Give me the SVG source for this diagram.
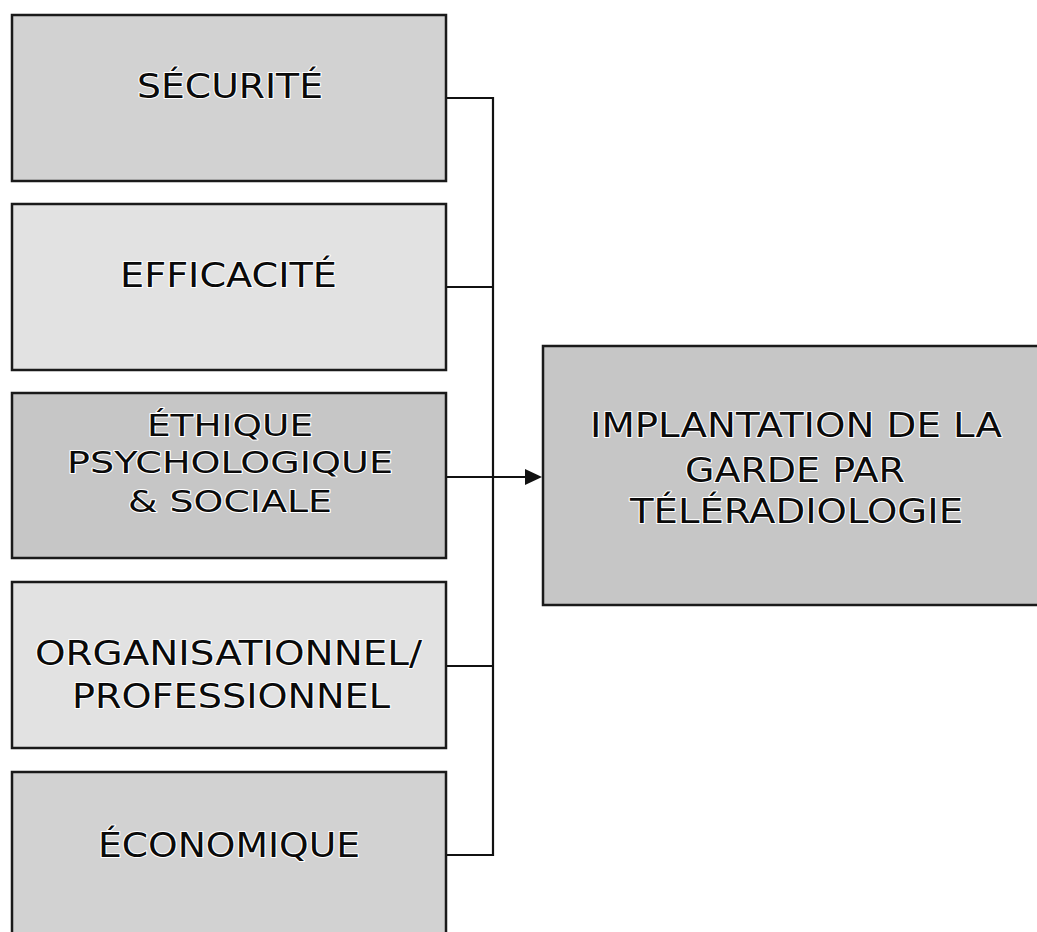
<svg xmlns="http://www.w3.org/2000/svg" width="1037" height="932" viewBox="0 0 1037 932">
<style>
.box{stroke:#1a1a1a;stroke-width:2.5}
.g1{fill:#d2d2d2}
.g2{fill:#e2e2e2}
.g3{fill:#c6c6c6}
.t{font-family:"DejaVu Sans",Verdana,sans-serif;font-size:34px;fill:#0a0a0a;stroke:#fff;stroke-width:2;paint-order:stroke;stroke-linejoin:round}
.s{font-size:31px}
.c{fill:none;stroke:#111;stroke-width:2.2}
</style>
<rect width="1037" height="932" fill="#fff"/>
<g id="connectors">
<path class="c" d="M446 98 H493 V855 H446"/>
<path class="c" d="M446 287 H493"/>
<path class="c" d="M446 666 H493"/>
<line x1="446" y1="477" x2="528" y2="477" class="c"/>
<polygon points="525,469 542,477 525,485" fill="#111"/>
</g>
<g id="securite">
<rect class="box g1" x="12" y="15" width="434" height="166"/>
<text class="t" x="137" y="98" textLength="186" lengthAdjust="spacingAndGlyphs">SÉCURITÉ</text>
</g>
<g id="efficacite">
<rect class="box g2" x="12" y="204" width="434" height="166"/>
<text class="t" x="120" y="287" textLength="217" lengthAdjust="spacingAndGlyphs">EFFICACITÉ</text>
</g>
<g id="ethique">
<rect class="box g3" x="12" y="393" width="434" height="165"/>
<text class="t s" x="147" y="436" textLength="166" lengthAdjust="spacingAndGlyphs">ÉTHIQUE</text>
<text class="t s" x="67" y="473" textLength="326" lengthAdjust="spacingAndGlyphs">PSYCHOLOGIQUE</text>
<text class="t s" x="128" y="512" textLength="204" lengthAdjust="spacingAndGlyphs">&amp; SOCIALE</text>
</g>
<g id="organisationnel">
<rect class="box g2" x="12" y="582" width="434" height="166"/>
<text class="t" x="35" y="665" textLength="387" lengthAdjust="spacingAndGlyphs">ORGANISATIONNEL/</text>
<text class="t" x="72" y="708" textLength="318" lengthAdjust="spacingAndGlyphs">PROFESSIONNEL</text>
</g>
<g id="economique">
<rect class="box g1" x="12" y="772" width="434" height="175"/>
<text class="t" x="98" y="857" textLength="262" lengthAdjust="spacingAndGlyphs">ÉCONOMIQUE</text>
</g>
<g id="implantation">
<rect class="box g3" x="543" y="346" width="500" height="259"/>
<text class="t" x="590" y="437" textLength="412" lengthAdjust="spacingAndGlyphs">IMPLANTATION DE LA</text>
<text class="t" x="685" y="482" textLength="220" lengthAdjust="spacingAndGlyphs">GARDE PAR</text>
<text class="t" x="630" y="523" textLength="333" lengthAdjust="spacingAndGlyphs">TÉLÉRADIOLOGIE</text>
</g>
</svg>
